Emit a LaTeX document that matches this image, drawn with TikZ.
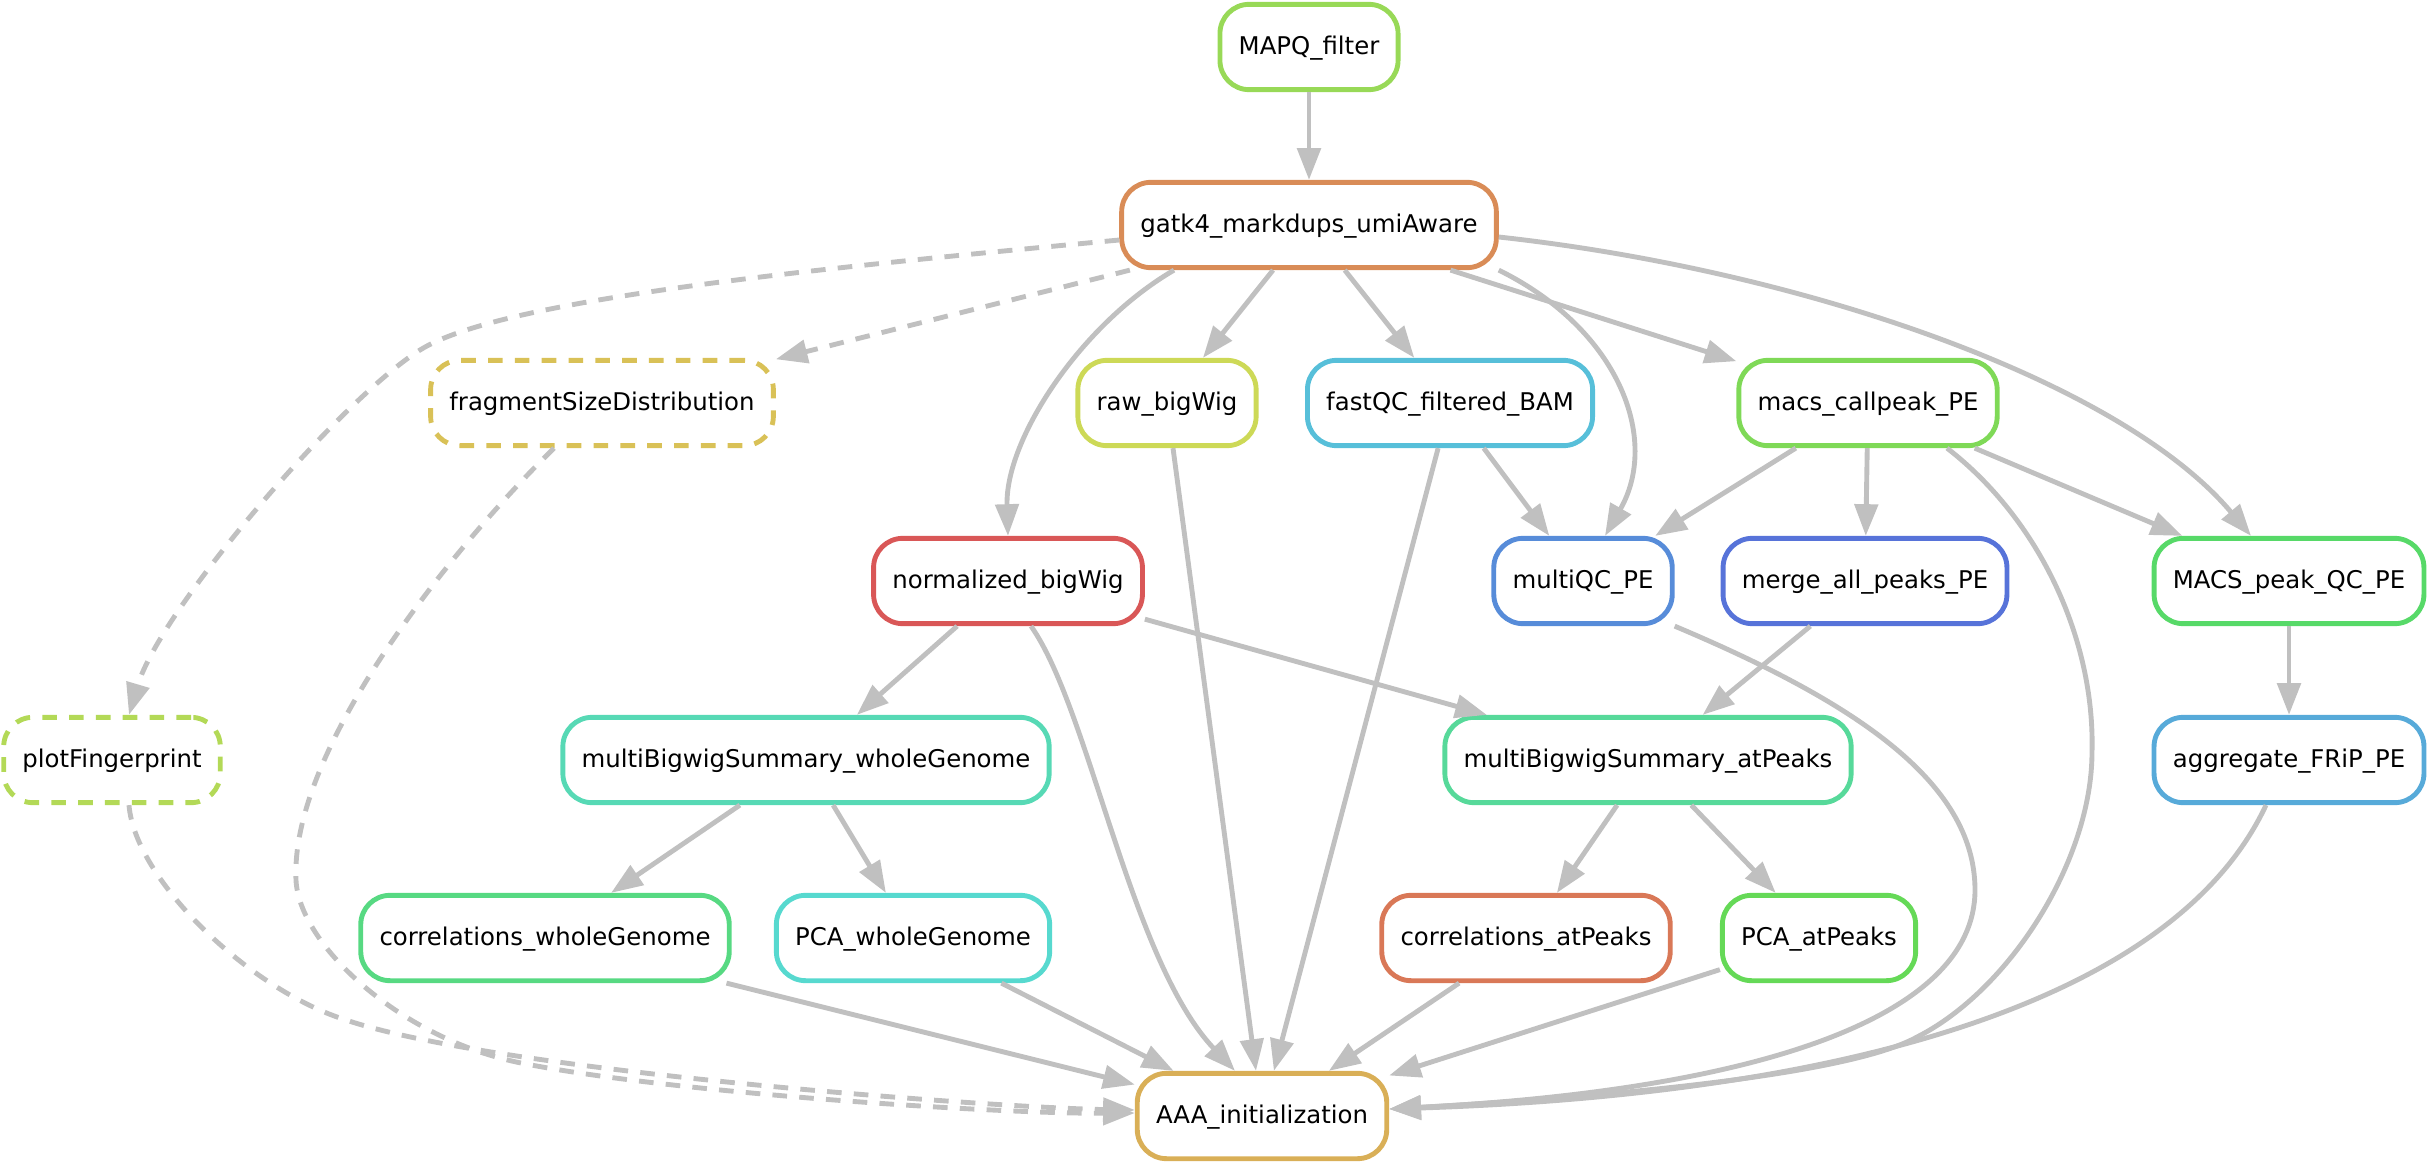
\documentclass[tikz,border=0pt]{standalone}
\usepackage{fontspec}
\setmainfont{DejaVu Sans}
\usetikzlibrary{arrows.meta}
\definecolor{depgrey}{HTML}{C0C0C0}
\definecolor{mapqcol}{HTML}{98D957}
\definecolor{gatkcol}{HTML}{D98C57}
\definecolor{fragcol}{HTML}{D9C157}
\definecolor{rawcol}{HTML}{CDD957}
\definecolor{fastqccol}{HTML}{57BFD9}
\definecolor{macscol}{HTML}{7FD957}
\definecolor{normcol}{HTML}{D95757}
\definecolor{mqccol}{HTML}{578CD9}
\definecolor{mergecol}{HTML}{5773D9}
\definecolor{macsqccol}{HTML}{57D968}
\definecolor{plotcol}{HTML}{B3D957}
\definecolor{mbswgcol}{HTML}{57D9B5}
\definecolor{mbsapcol}{HTML}{57D99A}
\definecolor{fripcol}{HTML}{57AAD9}
\definecolor{corrwgcol}{HTML}{57D982}
\definecolor{pcawgcol}{HTML}{57D9CF}
\definecolor{corrapcol}{HTML}{D97857}
\definecolor{pcaapcol}{HTML}{65D957}
\definecolor{aaacol}{HTML}{D9AF57}
\begin{document}
\begin{tikzpicture}[x=0.41pt,y=-0.41pt]
\tikzstyle{rule node}=[rectangle,draw,line width=2pt,rounded corners=12pt,minimum height=35pt,inner xsep=7.7pt,inner ysep=0pt,text height=8pt,text depth=2.2pt]
\tikzstyle{dashed rule node}=[rule node,dash pattern=on 6pt off 5pt]
\tikzset{
	dep line/.style={draw=depgrey,line width=2pt,-{Triangle[length=13pt,width=9.5pt]}},
	dashed dep line/.style={dep line,dash pattern=on 6pt off 5pt}
}
\useasboundingbox (0,0) rectangle (2429,1164);

\node[rule node,draw=mapqcol] (mapq) at (1309,47) {MAPQ\_filter};
\node[rule node,draw=gatkcol] (gatk) at (1309,225) {gatk4\_markdups\_umiAware};
\node[dashed rule node,draw=fragcol] (frag) at (602,403) {fragmentSizeDistribution};
\node[rule node,draw=rawcol] (raw) at (1167,403) {raw\_bigWig};
\node[rule node,draw=fastqccol] (fastqc) at (1450,403) {fastQC\_filtered\_BAM};
\node[rule node,draw=macscol] (macs) at (1868,403) {macs\_callpeak\_PE};
\node[rule node,draw=normcol] (norm) at (1008,581) {normalized\_bigWig};
\node[rule node,draw=mqccol] (mqc) at (1583,581) {multiQC\_PE};
\node[rule node,draw=mergecol] (merge) at (1865,581) {merge\_all\_peaks\_PE};
\node[rule node,draw=macsqccol] (macsqc) at (2289,581) {MACS\_peak\_QC\_PE};
\node[dashed rule node,draw=plotcol] (plotfp) at (112,760) {plotFingerprint};
\node[rule node,draw=mbswgcol] (mbswg) at (806,760) {multiBigwigSummary\_wholeGenome};
\node[rule node,draw=mbsapcol] (mbsap) at (1648,760) {multiBigwigSummary\_atPeaks};
\node[rule node,draw=fripcol] (frip) at (2289,760) {aggregate\_FRiP\_PE};
\node[rule node,draw=corrwgcol] (corrwg) at (545,938) {correlations\_wholeGenome};
\node[rule node,draw=pcawgcol] (pcawg) at (913,938) {PCA\_wholeGenome};
\node[rule node,draw=corrapcol] (corrap) at (1526,938) {correlations\_atPeaks};
\node[rule node,draw=pcaapcol] (pcaap) at (1819,938) {PCA\_atPeaks};
\node[rule node,draw=aaacol] (aaa) at (1262,1116) {AAA\_initialization};

\draw[dep line] (mapq) -- (gatk);
\draw[dashed dep line] (gatk) -- (frag);
\draw[dashed dep line] ([shift={(0,15)}]gatk.west) .. controls (800,270) and (500,300) .. (420,350) .. controls (340,400) and (160,610) .. ([shift={(17,0)}]plotfp.north);
\draw[dep line] (gatk) -- (raw);
\draw[dep line] (gatk) -- (fastqc);
\draw[dep line] (gatk) -- (macs);
\draw[dep line] ([shift={(-135,0)}]gatk.south) .. controls (1080,325) and (1005,440) .. (norm.north);
\draw[dep line] (gatk.south east) .. controls (1620,330) and (1660,440) .. ([shift={(22,0)}]mqc.north);
\draw[dep line] ([shift={(0,12)}]gatk.east) .. controls (1800,270) and (2120,380) .. ([shift={(-38,0)}]macsqc.north);
\draw[dashed dep line] ([shift={(-48,0)}]frag.south) .. controls (450,550) and (290,750) .. (296,880) .. controls (299,945) and (401,1039) .. (521,1063) .. controls (671,1093) and (1000,1114) .. ([shift={(0,-3)}]aaa.west);
\draw[dashed dep line] ([shift={(17,0)}]plotfp.south) .. controls (135,880) and (250,990) .. (346,1020) .. controls (500,1072) and (1000,1108) .. ([shift={(0,-6)}]aaa.west);
\draw[dep line] (raw) -- (aaa);
\draw[dep line] (fastqc) -- (mqc);
\draw[dep line] (fastqc) -- (aaa);
\draw[dep line] (macs) -- (mqc);
\draw[dep line] (macs) -- (merge);
\draw[dep line] (macs) -- (macsqc);
\draw[dep line] ([shift={(79,0)}]macs.south) .. controls (2040,520) and (2095,640) .. (2092,752) .. controls (2092,860) and (2010,990) .. (1917,1037) .. controls (1840,1080) and (1550,1100) .. ([shift={(0,-7)}]aaa.east);
\draw[dep line] (norm) -- (mbswg);
\draw[dep line] (norm) -- (mbsap);
\draw[dep line] ([shift={(23,0)}]norm.south) .. controls (1090,710) and (1130,960) .. ([shift={(-27,0)}]aaa.north);
\draw[dep line] (mqc.south east) .. controls (1850,700) and (1975,780) .. (1975,890) .. controls (1975,1020) and (1750,1090) .. ([shift={(0,-7)}]aaa.east);
\draw[dep line] (merge) -- (mbsap);
\draw[dep line] (macsqc) -- (frip);
\draw[dep line] (mbswg) -- (corrwg);
\draw[dep line] (mbswg) -- (pcawg);
\draw[dep line] (mbsap) -- (corrap);
\draw[dep line] (mbsap) -- (pcaap);
\draw[dep line] ([shift={(-23,0)}]frip.south) .. controls (2170,1010) and (1820,1095) .. ([shift={(0,-7)}]aaa.east);
\draw[dep line] (corrwg) -- (aaa);
\draw[dep line] (pcawg) -- (aaa);
\draw[dep line] (corrap) -- (aaa);
\draw[dep line] (pcaap) -- (aaa);
\end{tikzpicture}
\end{document}
